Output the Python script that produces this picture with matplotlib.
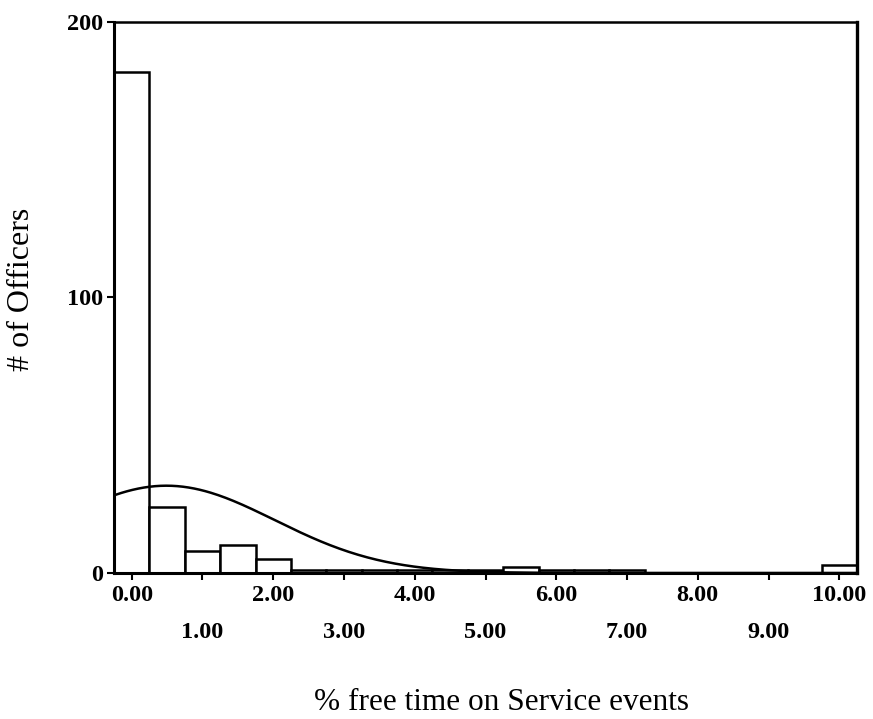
import numpy as np
import matplotlib
matplotlib.use("Agg")
import matplotlib.pyplot as plt
import matplotlib.ticker as ticker

# ── Data ──────────────────────────────────────────────────────────────────────
BIN_CENTERS = [0.0, 0.5, 1.0, 1.5, 2.0, 2.5, 3.0, 3.5, 4.0, 4.5, 5.0,
               5.5, 6.0, 6.5, 7.0, 7.5, 8.0, 8.5, 9.0, 9.5, 10.0]
COUNTS      = [182, 24, 8, 10, 5, 1, 1, 1, 1, 1, 1,
               2, 1, 1, 1, 0, 0, 0, 0, 0, 3]
BIN_WIDTH   = 0.5

# fitted normal curve parameters
CURVE_MEAN = 0.49
CURVE_SD   = 1.53

EVEN_TICKS = [0, 2, 4, 6, 8, 10]
ODD_TICKS  = [1, 3, 5, 7, 9]
Y_TICKS    = [0, 100, 200]

XLABEL = "% free time on Service events"
YLABEL = "# of Officers"

# ── Plot ──────────────────────────────────────────────────────────────────────
plt.rcParams["font.family"] = ["Liberation Serif", "DejaVu Serif"]

fig = plt.figure(figsize=(8.73, 7.19), dpi=100)
ax = fig.add_axes([0.1306, 0.2031, 0.8511, 0.7663])

ax.bar(BIN_CENTERS, COUNTS, width=BIN_WIDTH, color="white",
       edgecolor="black", linewidth=1.8, zorder=2)

n_total = sum(COUNTS)
xs = np.linspace(-0.25, 10.25, 400)
pdf = np.exp(-0.5 * ((xs - CURVE_MEAN) / CURVE_SD) ** 2) / (CURVE_SD * np.sqrt(2 * np.pi))
ax.plot(xs, pdf * n_total * BIN_WIDTH, color="black", linewidth=1.8, zorder=3)

ax.set_xlim(-0.25, 10.25)
ax.set_ylim(0, 200)

ax.xaxis.set_major_locator(ticker.FixedLocator(EVEN_TICKS))
ax.xaxis.set_minor_locator(ticker.FixedLocator(ODD_TICKS))
ax.xaxis.set_major_formatter(ticker.FormatStrFormatter("%.2f"))
ax.xaxis.set_minor_formatter(ticker.FormatStrFormatter("%.2f"))
ax.set_yticks(Y_TICKS)

ax.tick_params(axis="x", which="both", direction="out", length=5, width=1.5)
ax.tick_params(axis="x", which="major", pad=4, labelsize=17.5)
ax.tick_params(axis="x", which="minor", pad=30, labelsize=17.5)
ax.tick_params(axis="y", direction="out", length=5, width=1.5, pad=3, labelsize=17.5)
for lab in ax.get_xticklabels(which="both") + ax.get_yticklabels():
    lab.set_fontweight("bold")

for side, lw in [("left", 2.2), ("bottom", 2.2), ("top", 1.8), ("right", 2.4)]:
    ax.spines[side].set_linewidth(lw)

ax.set_xlabel(XLABEL, fontsize=22.5, va="center")
ax.xaxis.set_label_coords(0.521, -0.236)
ax.set_ylabel(YLABEL, fontsize=23, va="center")
ax.yaxis.set_label_coords(-0.124, 0.515)

fig.savefig("out.png", dpi=100)
plt.close(fig)
print("Saved -> out.png")
